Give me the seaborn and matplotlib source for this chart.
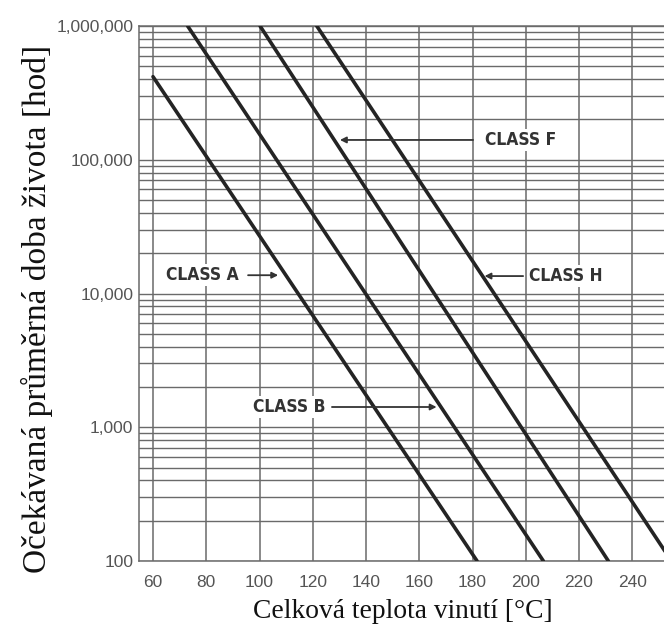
import numpy as np
import pandas as pd
import matplotlib
matplotlib.use("Agg")
import matplotlib.pyplot as plt
from matplotlib.ticker import FixedLocator, MultipleLocator, LogLocator, NullFormatter
from matplotlib import font_manager
import seaborn as sns

# Insulation classes: straight life lines on a log scale (start and end points)
classes = ["CLASS A", "CLASS B", "CLASS F", "CLASS H"]
temp_start = [60.0, 73.0, 100.2, 121.5]
temp_end = [181.7, 206.6, 231.0, 254.7]
life_start = [418000, 1000000, 1000000, 1000000]
life_end = [100, 100, 100, 100]

# Axis ticks
x_ticks = [60, 80, 100, 120, 140, 160, 180, 200, 220, 240]
y_ticks = [100, 1000, 10000, 100000, 1000000]
y_tick_labels = ["100", "1,000", "10,000", "100,000", "1,000,000"]

# Callout labels: (text position, arrow tip) in data units
label_text_x = [92.3, 124.6, 184.7, 201.2]
label_text_y = [13700, 1417, 140600, 13500]
label_tail_x = [95.7, 127.2, 180.2, 199.0]
label_tip_x = [107.0, 166.5, 130.2, 184.5]

rows = []
for c, t0, t1, l0, l1 in zip(classes, temp_start, temp_end, life_start, life_end):
    rows.append({"cls": c, "temp": t0, "life": l0})
    rows.append({"cls": c, "temp": t1, "life": l1})
df = pd.DataFrame(rows)

sns.set_theme(style="white")
plt.rcParams["font.family"] = ["Liberation Sans", "DejaVu Sans"]

# condensed bold face for the class callouts, if one is available
cond_names = {f.name for f in font_manager.fontManager.ttflist
              if "ondensed" in f.name or "Narrow" in f.name}
label_family = ["Liberation Sans", "DejaVu Sans"]
label_stretch = "normal"
for cand in ["Liberation Sans Narrow", "DejaVu Sans Condensed"]:
    if cand in cond_names:
        label_family = [cand, "DejaVu Sans"]
        break
else:
    label_family = ["DejaVu Sans"]
    label_stretch = "condensed"

fig = plt.figure(figsize=(6.64, 6.34), dpi=100)
ax = fig.add_axes([139 / 664, 1 - 561 / 634, 525 / 664, 535 / 634])

ax.set_yscale("log")
ax.set_xlim(54.74, 251.9)
ax.set_ylim(100, 1000000)

grid_c = "#6a6a6a"
ax.xaxis.set_major_locator(FixedLocator(x_ticks))
ax.xaxis.set_minor_locator(MultipleLocator(5))
ax.yaxis.set_major_locator(FixedLocator(y_ticks))
ax.yaxis.set_minor_locator(LogLocator(base=10, subs=np.arange(2, 10)))
ax.yaxis.set_minor_formatter(NullFormatter())
ax.set_yticklabels(y_tick_labels)

ax.grid(True, which="major", axis="x", color=grid_c, lw=1.1)
ax.grid(True, which="both", axis="y", color=grid_c, lw=1.0)
ax.set_axisbelow(True)

sns.lineplot(data=df, x="temp", y="life", units="cls", estimator=None,
             color="#242424", lw=2.6, legend=False, ax=ax, zorder=3)

for name, tx, ty, tail, tip in zip(classes, label_text_x, label_text_y,
                                   label_tail_x, label_tip_x):
    ha = "right" if tail > tx else "left"
    ax.text(tx, ty, name, ha=ha, va="center", fontsize=12.5, fontweight="bold",
            family=label_family, fontstretch=label_stretch,
            color="#333333", zorder=5,
            bbox=dict(facecolor="white", edgecolor="none", pad=1.5))
    ax.annotate("", xy=(tip, ty), xytext=(tail, ty),
                arrowprops=dict(arrowstyle="-|>", color="#333333", lw=1.3,
                                mutation_scale=9, shrinkA=0, shrinkB=0),
                zorder=5)

ax.spines["right"].set_visible(False)
for side in ["left", "bottom", "top"]:
    ax.spines[side].set_color(grid_c)
    ax.spines[side].set_linewidth(1.1)

ax.tick_params(axis="x", which="major", direction="out", length=4, width=1,
               color=grid_c, pad=6, labelsize=12.5, labelcolor="#555555")
ax.tick_params(axis="x", which="minor", direction="out", length=4, width=1,
               color=grid_c)
ax.tick_params(axis="y", which="both", length=0, pad=4, labelsize=12.5,
               labelcolor="#555555")

ax.set_xlabel("Celková teplota vinutí [°C]", fontsize=19.8,
              family=["Liberation Serif", "DejaVu Serif"], color="#111111",
              va="center")
ax.set_ylabel("Očekávaná průměrná doba života [hod]", fontsize=24,
              family=["Liberation Serif", "DejaVu Serif"], color="#111111",
              va="center")
ax.xaxis.set_label_coords(0.503, -0.095)
ax.yaxis.set_label_coords(-0.195, 0.472)

fig.savefig("out.png", dpi=100)
